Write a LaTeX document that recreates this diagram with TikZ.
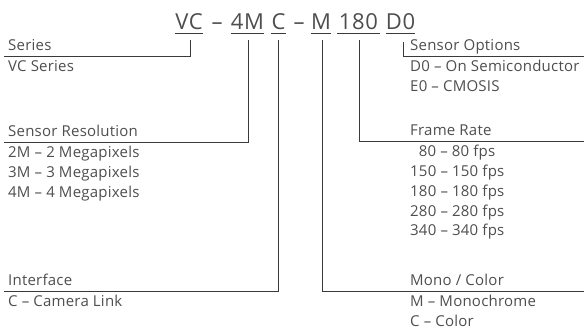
\documentclass[tikz,border=0pt]{standalone}
\usepackage{fontspec}
\setmainfont{Open Sans}
\newfontfamily\lblfont{Open Sans}[LetterSpace=1.5]
\newfontfamily\ttlfont{Open Sans}[LetterSpace=3]
\usetikzlibrary{calc}
\definecolor{txt}{HTML}{4E4E4E}
\definecolor{ln}{HTML}{3A3A3A}
\tikzset{
  tpart/.style={inner sep=0pt, anchor=base, text height=15pt, text depth=3pt, font=\ttlfont\fontsize{22}{22}\selectfont, text=txt},
  lbl/.style={inner sep=0pt, anchor=base west, font=\lblfont\fontsize{15}{15}\selectfont, text=txt},
  uline/.style={draw=ln, line width=0.9pt},
  conn/.style={draw=ln, line width=0.9pt},
}
\begin{document}
\begin{tikzpicture}[x=1pt,y=-1pt]
\useasboundingbox (0,0) rectangle (584,331);
% title parts
\node[tpart, minimum width=28pt] (vc) at (189,30) {VC};
\node[tpart] (d1) at (217,30) {–};
\node[tpart, minimum width=31pt] (res) at (247.5,30) {4M};
\node[tpart, minimum width=13pt] (intf) at (278.5,30) {C};
\node[tpart] (d2) at (299,30) {–};
\node[tpart, minimum width=18pt] (mono) at (321,30) {M};
\node[tpart, minimum width=43pt] (fps) at (358.5,30) {180};
\node[tpart, minimum width=29pt] (opt) at (400.5,30) {D0};
\foreach \n in {vc,res,intf,mono,fps,opt}
  \draw[uline] (\n.south west) -- (\n.south east);
% left labels
\node[lbl] (series) at (8,51) {Series};
\node[lbl] (vcs) at (8,72) {VC Series};
\node[lbl] (sres) at (8,137) {Sensor Resolution};
\node[lbl] (r2) at (8,158) {2M – 2 Megapixels};
\node[lbl] (r3) at (8,177.7) {3M – 3 Megapixels};
\node[lbl] (r4) at (8,197.4) {4M – 4 Megapixels};
\node[lbl] (ifc) at (8,286) {Interface};
\node[lbl] (cl) at (8,307) {C – Camera Link};
% right labels
\node[lbl] (sopt) at (410,51) {Sensor Options};
\node[lbl] (o1) at (410,72) {D0 – On Semiconductor};
\node[lbl] (o2) at (410,91.7) {E0 – CMOSIS};
\node[lbl] (frate) at (410,136) {Frame Rate};
\node[lbl] (f1) at (410,157) {\phantom{0}80 – 80 fps};
\node[lbl] (f2) at (410,176.7) {150 – 150 fps};
\node[lbl] (f3) at (410,196.4) {180 – 180 fps};
\node[lbl] (f4) at (410,216.1) {280 – 280 fps};
\node[lbl] (f5) at (410,235.8) {340 – 340 fps};
\node[lbl] (mc) at (410,286) {Mono / Color};
\node[lbl] (mm) at (410,307) {M – Monochrome};
\node[lbl] (mcc) at (410,326.7) {C – Color};
% connector ends
\coordinate (eSer) at (4,56);
\coordinate (eRes) at (4,142);
\coordinate (eIfc) at (4,291);
\coordinate (eOpt) at (584,56);
\coordinate (eFps) at (584,141);
\coordinate (eMono) at (584,291);
% connectors
\draw[conn] ($(vc.south)+(1,7)$) |- (eSer);
\draw[conn] ($(res.south)+(0.5,7)$) |- (eRes);
\draw[conn] ($(intf.south)+(-0.5,7)$) |- (eIfc);
\draw[conn] ($(mono.south)+(1,7)$) |- (eMono);
\draw[conn] ($(fps.south)+(0.5,7)$) |- (eFps);
\draw[conn] ($(opt.south)+(2.5,9)$) |- (eOpt);
\end{tikzpicture}
\end{document}
